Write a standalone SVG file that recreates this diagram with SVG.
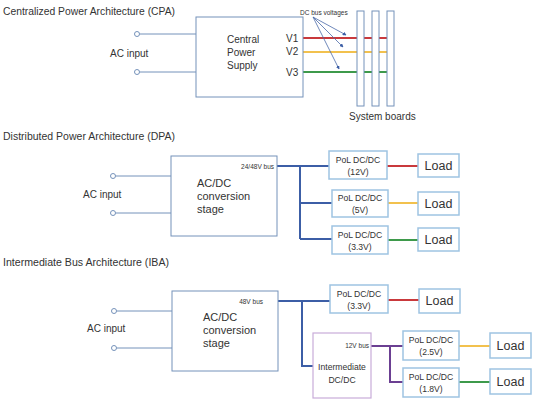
<svg xmlns="http://www.w3.org/2000/svg" width="535" height="400" viewBox="0 0 535 400">
<style>
text{font-family:"Liberation Sans",Arial,sans-serif;fill:#333}
.t{font-size:10px}
.m{font-size:10px}
.big{font-size:11px}
.s{font-size:8.6px;text-anchor:middle}
.xs{font-size:6.5px}
.ld{font-size:12.5px;text-anchor:middle}
.box{fill:#fff;stroke:#7592ba;stroke-width:1}
.pol{fill:#fff;stroke:#9ec4e2;stroke-width:1.5}
.imd{fill:#fff;stroke:#c9acd9;stroke-width:1.2}
.in{fill:none;stroke:#7592ba;stroke-width:1}
.term{fill:#fff;stroke:#7592ba;stroke-width:1}
.bus{fill:none;stroke:#3c5ea6;stroke-width:2}
.pbus{fill:none;stroke:#6b3f92;stroke-width:2}
.red{stroke:#c9393c;stroke-width:2}
.yel{stroke:#f2c14e;stroke-width:2}
.grn{stroke:#3e9a4b;stroke-width:2}
.arr{stroke:#4a6aa8;stroke-width:0.8;fill:none}
</style>
<defs>
<marker id="ah" viewBox="0 0 6 6" refX="5" refY="3" markerWidth="5" markerHeight="5" orient="auto">
<path d="M0,0 L6,3 L0,6 z" fill="#3c5ea6"/>
</marker>
</defs>

<!-- Titles -->
<text class="t" x="3" y="15" textLength="172" lengthAdjust="spacingAndGlyphs">Centralized  Power Architecture (CPA)</text>
<text class="t" x="3" y="140" textLength="172" lengthAdjust="spacingAndGlyphs">Distributed Power Architecture (DPA)</text>
<text class="t" x="3" y="266" textLength="166" lengthAdjust="spacingAndGlyphs">Intermediate Bus Architecture (IBA)</text>

<!-- Connectors -->
<g id="connectors">
  <!-- CPA inputs -->
  <line class="in" x1="139.5" y1="34" x2="196" y2="34"/>
  <line class="in" x1="139.5" y1="72" x2="196" y2="72"/>
  <!-- CPA DC buses -->
  <line class="red" x1="303" y1="38" x2="388" y2="38"/>
  <line class="yel" x1="303" y1="52" x2="388" y2="52"/>
  <line class="grn" x1="303" y1="72" x2="388" y2="72"/>
  <!-- DC bus voltage arrows -->
  <line class="arr" x1="313" y1="17" x2="346" y2="35" marker-end="url(#ah)"/>
  <line class="arr" x1="313" y1="17" x2="343" y2="47" marker-end="url(#ah)"/>
  <line class="arr" x1="313" y1="17" x2="339" y2="69" marker-end="url(#ah)"/>

  <!-- DPA inputs -->
  <line class="in" x1="115.5" y1="176" x2="171" y2="176"/>
  <line class="in" x1="115.5" y1="213" x2="171" y2="213"/>
  <!-- DPA bus -->
  <path class="bus" d="M277,166 H329 M300,166 V239 M300,203 H332 M300,239 H332"/>
  <line class="red" x1="387" y1="166" x2="418" y2="166"/>
  <line class="yel" x1="388" y1="203" x2="418" y2="203"/>
  <line class="grn" x1="388" y1="240" x2="418" y2="240"/>

  <!-- IBA inputs -->
  <line class="in" x1="116.5" y1="311" x2="172" y2="311"/>
  <line class="in" x1="116.5" y1="348" x2="172" y2="348"/>
  <!-- IBA bus -->
  <path class="bus" d="M278,301 H330 M302,301 V366 H313"/>
  <line class="red" x1="388" y1="300" x2="419" y2="300"/>
  <!-- 12V bus -->
  <path class="pbus" d="M371,346 H403 M390,346 V382 H403"/>
  <line class="yel" x1="459" y1="346" x2="490" y2="346"/>
  <line class="grn" x1="459" y1="382" x2="490" y2="382"/>
</g>

<!-- CPA -->
<g id="cpa-ac-input">
  <circle class="term" cx="137" cy="34" r="2.5"/>
  <circle class="term" cx="137" cy="72" r="2.5"/>
  <text class="m" x="110" y="57">AC input</text>
</g>
<g id="cpa-central-supply">
  <rect class="box" x="196" y="17" width="107" height="80"/>
  <text class="m" x="227" y="43">Central</text>
  <text class="m" x="227" y="56">Power</text>
  <text class="m" x="227" y="69">Supply</text>
  <text class="m" x="286" y="42">V1</text>
  <text class="m" x="286" y="55">V2</text>
  <text class="m" x="286" y="76">V3</text>
</g>
<g id="cpa-dc-bus-label">
  <text class="xs" x="300" y="15">DC bus voltages</text>
</g>
<g id="cpa-system-boards">
  <rect class="box" x="357" y="11" width="7" height="95"/>
  <rect class="box" x="372" y="11" width="7" height="95"/>
  <rect class="box" x="387" y="11" width="7" height="95"/>
  <text class="m" x="349" y="120" font-size="8.6">System boards</text>
</g>

<!-- DPA -->
<g id="dpa-ac-input">
  <circle class="term" cx="113" cy="176" r="2.5"/>
  <circle class="term" cx="113" cy="213" r="2.5"/>
  <text class="m" x="83" y="198">AC input</text>
</g>
<g id="dpa-acdc">
  <rect class="box" x="171" y="156" width="106" height="80"/>
  <text class="xs" x="274" y="169" text-anchor="end">24/48V bus</text>
  <text class="big" x="197" y="187">AC/DC</text>
  <text class="big" x="197" y="200">conversion</text>
  <text class="big" x="197" y="213">stage</text>
</g>
<g id="dpa-pol-12v">
  <rect class="pol" x="329" y="151" width="58" height="28"/>
  <text class="s" x="358" y="163">PoL DC/DC</text>
  <text class="s" x="358" y="175">(12V)</text>
</g>
<g id="dpa-pol-5v">
  <rect class="pol" x="332" y="190" width="56" height="27"/>
  <text class="s" x="360" y="201">PoL DC/DC</text>
  <text class="s" x="360" y="213">(5V)</text>
</g>
<g id="dpa-pol-3v3">
  <rect class="pol" x="332" y="226" width="56" height="28"/>
  <text class="s" x="360" y="238">PoL DC/DC</text>
  <text class="s" x="360" y="250">(3.3V)</text>
</g>
<g id="dpa-load-1">
  <rect class="pol" x="418" y="154" width="41" height="23"/>
  <text class="ld" x="438.5" y="170">Load</text>
</g>
<g id="dpa-load-2">
  <rect class="pol" x="418" y="192" width="41" height="23"/>
  <text class="ld" x="438.5" y="208">Load</text>
</g>
<g id="dpa-load-3">
  <rect class="pol" x="418" y="228" width="41" height="23"/>
  <text class="ld" x="438.5" y="244">Load</text>
</g>

<!-- IBA -->
<g id="iba-ac-input">
  <circle class="term" cx="114" cy="311" r="2.5"/>
  <circle class="term" cx="114" cy="348" r="2.5"/>
  <text class="m" x="87" y="332">AC input</text>
</g>
<g id="iba-acdc">
  <rect class="box" x="172" y="291" width="106" height="80"/>
  <text class="xs" x="263" y="304" text-anchor="end">48V bus</text>
  <text class="big" x="203" y="321">AC/DC</text>
  <text class="big" x="203" y="334">conversion</text>
  <text class="big" x="203" y="347">stage</text>
</g>
<g id="iba-pol-3v3">
  <rect class="pol" x="330" y="285" width="58" height="28"/>
  <text class="s" x="359" y="297">PoL DC/DC</text>
  <text class="s" x="359" y="309">(3.3V)</text>
</g>
<g id="iba-load-1">
  <rect class="pol" x="419" y="289" width="41" height="24"/>
  <text class="ld" x="439.5" y="305">Load</text>
</g>
<g id="iba-intermediate">
  <rect class="imd" x="313" y="333" width="58" height="65"/>
  <text class="xs" x="369" y="348" text-anchor="end">12V bus</text>
  <text class="s" x="342" y="370" font-size="9.2">Intermediate</text>
  <text class="s" x="342" y="383" font-size="9.2">DC/DC</text>
</g>
<g id="iba-pol-2v5">
  <rect class="pol" x="403" y="331" width="56" height="29"/>
  <text class="s" x="431" y="343">PoL DC/DC</text>
  <text class="s" x="431" y="355">(2.5V)</text>
</g>
<g id="iba-pol-1v8">
  <rect class="pol" x="403" y="368" width="56" height="29"/>
  <text class="s" x="431" y="380">PoL DC/DC</text>
  <text class="s" x="431" y="392">(1.8V)</text>
</g>
<g id="iba-load-2">
  <rect class="pol" x="490" y="333" width="41" height="25"/>
  <text class="ld" x="510.5" y="350">Load</text>
</g>
<g id="iba-load-3">
  <rect class="pol" x="490" y="369" width="41" height="25"/>
  <text class="ld" x="510.5" y="386">Load</text>
</g>
</svg>
